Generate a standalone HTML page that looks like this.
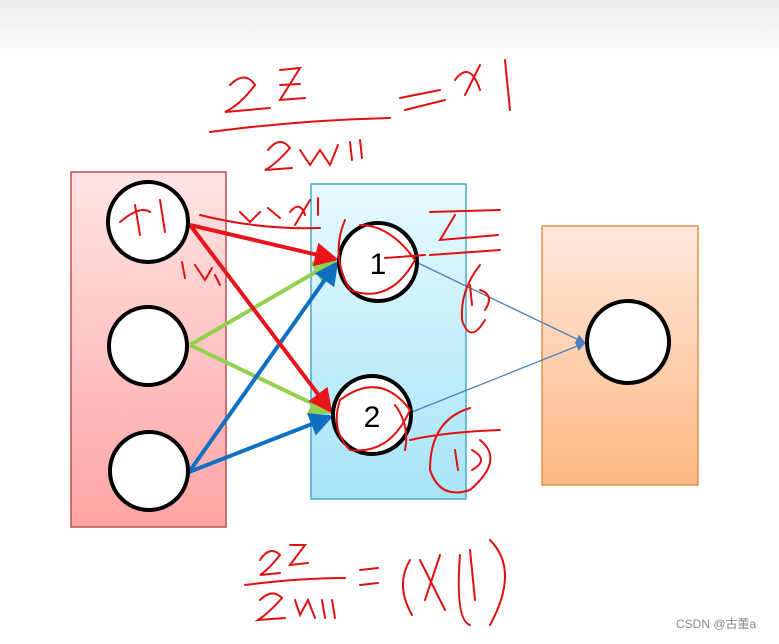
<!DOCTYPE html>
<html><head><style>
body{margin:0;width:779px;height:639px;overflow:hidden;background:#fff}
</style></head><body>
<svg width="779" height="639" viewBox="0 0 779 639" xmlns="http://www.w3.org/2000/svg" font-family="Liberation Sans, sans-serif">
<defs>
<linearGradient id="gt" x1="0" y1="0" x2="0" y2="1"><stop offset="0" stop-color="#ececec"/><stop offset="1" stop-color="#fff"/></linearGradient>
<linearGradient id="gr" x1="0" y1="0" x2="0" y2="1"><stop offset="0" stop-color="#ffe4e4"/><stop offset="1" stop-color="#ffa4a4"/></linearGradient>
<linearGradient id="gb" x1="0" y1="0" x2="0" y2="1"><stop offset="0" stop-color="#e6f9ff"/><stop offset="1" stop-color="#a6e4f7"/></linearGradient>
<linearGradient id="go" x1="0" y1="0" x2="0" y2="1"><stop offset="0" stop-color="#ffe8dc"/><stop offset="1" stop-color="#ffb884"/></linearGradient>
<marker id="ar" markerWidth="6" markerHeight="6" refX="5" refY="3" orient="auto" markerUnits="strokeWidth"><path d="M0,0 L6,3 L0,6 z" fill="#e8141c"/></marker>
<marker id="ag" markerWidth="6" markerHeight="6" refX="5" refY="3" orient="auto" markerUnits="strokeWidth"><path d="M0,0 L6,3 L0,6 z" fill="#92d050"/></marker>
<marker id="ab" markerWidth="6" markerHeight="6" refX="5" refY="3" orient="auto" markerUnits="strokeWidth"><path d="M0,0 L6,3 L0,6 z" fill="#0f6fc0"/></marker>
<marker id="as" markerWidth="10" markerHeight="10" refX="9" refY="5" orient="auto" markerUnits="userSpaceOnUse"><path d="M0,0 L10,5 L0,10 z" fill="#4f7fb8"/></marker>
</defs>
<rect width="779" height="60" fill="url(#gt)"/>
<rect x="71" y="172" width="155" height="355" fill="url(#gr)" stroke="#b85050" stroke-width="1.5"/>
<rect x="311" y="184" width="155" height="315" fill="url(#gb)" stroke="#4aa8c8" stroke-width="1.5"/>
<rect x="542" y="226" width="156" height="259" fill="url(#go)" stroke="#e09050" stroke-width="1.5"/>
<line x1="418" y1="263" x2="585" y2="343" stroke="#4f7fb8" stroke-width="1.3" marker-end="url(#as)"/>
<line x1="412" y1="412" x2="585" y2="343" stroke="#4f7fb8" stroke-width="1.3" marker-end="url(#as)"/>
<g stroke-width="4" fill="none">
<line x1="190" y1="345" x2="333" y2="262" stroke="#92d050" marker-end="url(#ag)"/>
<line x1="190" y1="345" x2="330" y2="412" stroke="#92d050" marker-end="url(#ag)"/>
<line x1="189" y1="472" x2="336" y2="264" stroke="#0f6fc0" marker-end="url(#ab)"/>
<line x1="189" y1="472" x2="330" y2="417" stroke="#0f6fc0" marker-end="url(#ab)"/>
<line x1="190" y1="225" x2="335" y2="259" stroke="#e8141c" marker-end="url(#ar)"/>
<line x1="190" y1="225" x2="330" y2="410" stroke="#e8141c" marker-end="url(#ar)"/>
</g>
<g fill="#fff" stroke="#000" stroke-width="4">
<circle cx="148" cy="222" r="40"/><circle cx="148" cy="346" r="39"/><circle cx="149" cy="471" r="39"/>
<circle cx="378" cy="262" r="39"/><circle cx="372" cy="415" r="39"/><circle cx="628" cy="342" r="41"/>
</g>
<text x="378" y="274" font-size="30" text-anchor="middle">1</text>
<text x="372" y="427" font-size="30" text-anchor="middle">2</text>
<g fill="none" stroke="#e01010" stroke-width="2" stroke-linecap="round">
<path d="M120,222 Q140,205 150,212 M135,205 L140,235 M160,200 L165,232"/>
<path d="M230,85 Q245,70 255,85 Q240,105 225,112 L270,108 M280,70 L300,68 L280,100 L305,98 M280,85 L300,84"/>
<path d="M210,132 Q300,120 390,118"/>
<path d="M268,150 Q280,135 290,148 Q275,165 265,170 L292,168 M300,150 L310,165 L320,150 L330,165 L338,145 M350,142 L352,160 M360,140 L362,158"/>
<path d="M400,98 L440,90 M405,110 L445,100 M455,80 Q470,60 480,90 M465,95 L480,65 M505,60 L510,110"/>
<path d="M240,212 L250,222 L260,212 M268,208 L280,218 M290,212 Q300,200 305,215 M295,225 L310,200 M318,198 L318,215"/>
<path d="M200,215 Q260,230 320,228"/>
<path d="M182,262 L185,278 M195,265 L205,280 L212,268 M215,275 L220,285"/>
<path d="M430,212 L500,210 M455,215 L440,240 L498,235 M430,255 L500,250"/>
<path d="M480,265 Q460,290 462,320 Q470,345 485,320 M470,285 L472,305 M480,290 Q495,295 485,310"/>
<path d="M345,220 Q330,255 350,290 Q390,305 415,260 Q390,225 360,225"/>
<path d="M385,258 L425,255"/>
<path d="M340,400 Q330,430 350,450 Q390,455 410,410 Q380,370 340,400 M395,405 Q410,425 405,450"/>
<path d="M410,440 Q445,432 500,430 M470,408 Q430,420 430,470 Q440,500 470,490 Q505,460 480,440 M455,450 L458,470 M472,450 Q490,460 472,470"/>
<path d="M260,560 Q270,545 280,555 Q268,570 260,575 L280,573 M290,545 L305,545 L290,565 L308,563"/>
<path d="M245,585 Q300,578 345,578"/>
<path d="M260,600 Q272,588 282,598 Q270,612 258,620 L285,618 M295,600 L300,615 L308,600 L315,618 M322,600 L325,618 M332,600 L335,618"/>
<path d="M360,570 L378,568 M360,585 L378,583"/>
<path d="M410,560 Q395,585 412,615 M420,560 L445,610 M440,555 L425,600 M460,555 Q455,620 470,625 M470,550 L475,600 M490,540 Q520,570 490,625"/>
</g>
<text x="676" y="628" font-size="12" fill="#888" font-family="Liberation Sans, Noto Sans CJK SC, sans-serif">CSDN @古董a</text>
</svg>
</body></html>
